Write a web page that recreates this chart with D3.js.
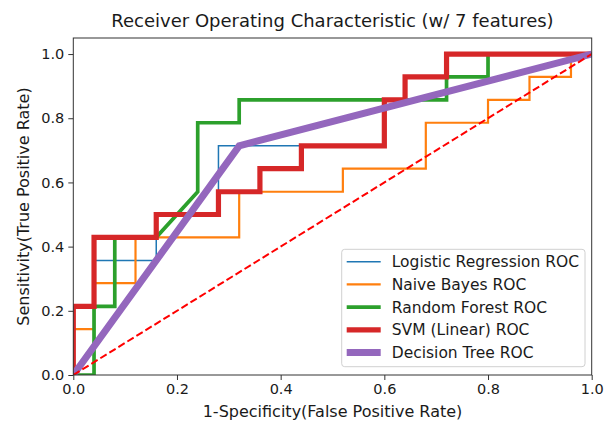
<!DOCTYPE html>
<html>
<head>
<meta charset="utf-8">
<script src="https://cdn.jsdelivr.net/npm/d3@7"></script>
<style>
  body { margin: 0; background: #fff; }
  text { font-family: "DejaVu Sans", sans-serif; fill: #1a1a1a; }
</style>
</head>
<body>
<div id="chart"></div>
<script>
/** ROC points (false positive rate / true positive rate) per model. **/
var lrFpr = [0, 0, 0.04, 0.04, 0.16, 0.16, 0.28, 0.28, 0.6, 0.6, 0.64, 0.64, 0.72, 0.72, 1];
var lrTpr = [0, 0.214, 0.214, 0.357, 0.357, 0.5, 0.5, 0.714, 0.714, 0.857, 0.857, 0.929, 0.929, 1, 1];

var nbFpr = [0, 0, 0.04, 0.04, 0.12, 0.12, 0.32, 0.32, 0.52, 0.52, 0.68, 0.68, 0.8, 0.8, 0.88, 0.88, 0.96, 0.96, 1];
var nbTpr = [0, 0.143, 0.143, 0.286, 0.286, 0.429, 0.429, 0.571, 0.571, 0.643, 0.643, 0.786, 0.786, 0.857, 0.857, 0.929, 0.929, 1, 1];

var rfFpr = [0, 0.04, 0.04, 0.08, 0.08, 0.16, 0.24, 0.24, 0.32, 0.32, 0.72, 0.72, 0.8, 0.8, 1];
var rfTpr = [0, 0, 0.214, 0.214, 0.429, 0.429, 0.571, 0.786, 0.786, 0.857, 0.857, 0.929, 0.929, 1, 1];

var svmFpr = [0, 0, 0.04, 0.04, 0.16, 0.16, 0.28, 0.28, 0.36, 0.36, 0.44, 0.44, 0.6, 0.6, 0.64, 0.64, 0.72, 0.72, 1];
var svmTpr = [0, 0.214, 0.214, 0.429, 0.429, 0.5, 0.5, 0.571, 0.571, 0.643, 0.643, 0.714, 0.714, 0.857, 0.857, 0.929, 0.929, 1, 1];

var dtFpr = [0, 0.32, 1];
var dtTpr = [0, 0.714, 1];

/** Chance line. **/
var chanceFpr = [0, 1];
var chanceTpr = [0, 1];

var seriesNames = ["Logistic Regression ROC", "Naive Bayes ROC", "Random Forest ROC", "SVM (Linear) ROC", "Decision Tree ROC"];
var xTicks = [0, 0.2, 0.4, 0.6, 0.8, 1.0];
var yTicks = [0, 0.2, 0.4, 0.6, 0.8, 1.0];

var series = [
    {name: seriesNames[0], fpr: lrFpr, tpr: lrTpr, color: "#1f77b4", width: 1.5},
    {name: seriesNames[1], fpr: nbFpr, tpr: nbTpr, color: "#ff7f0e", width: 2.2},
    {name: seriesNames[2], fpr: rfFpr, tpr: rfTpr, color: "#2ca02c", width: 3.7},
    {name: seriesNames[3], fpr: svmFpr, tpr: svmTpr, color: "#d62728", width: 5.2},
    {name: seriesNames[4], fpr: dtFpr, tpr: dtTpr, color: "#9467bd", width: 7}
];

var margin = {top: 38, right: 20.3, bottom: 51, left: 73.3},
    width = 612 - margin.left - margin.right,
    height = 426 - margin.top - margin.bottom;

var x = d3.scaleLinear().domain([0, 1]).range([0, width]);
var y = d3.scaleLinear().domain([0, 1.05]).range([height, 0]);

var svg = d3.select("#chart")
    .append("svg")
    .attr("width", 612)
    .attr("height", 426);

var g = svg.append("g")
    .attr("transform", "translate(" + margin.left + "," + margin.top + ")");

g.append("defs").append("clipPath").attr("id", "clip")
    .append("rect").attr("width", width).attr("height", height);

var line = d3.line()
    .x(function (d) { return x(d[0]); })
    .y(function (d) { return y(d[1]); });

function toPoints(fpr, tpr) {
    return fpr.map(function (v, i) { return [v, tpr[i]]; });
}

var lineContainer = g.append("g").attr("clip-path", "url(#clip)");

lineContainer.selectAll(".roc")
    .data(series)
    .enter().append("path")
    .attr("class", "roc")
    .attr("fill", "none")
    .attr("stroke", function (d) { return d.color; })
    .attr("stroke-width", function (d) { return d.width; })
    .attr("stroke-linejoin", "miter")
    .attr("stroke-linecap", "butt")
    .attr("d", function (d) { return line(toPoints(d.fpr, d.tpr)); });

lineContainer.append("path")
    .attr("fill", "none")
    .attr("stroke", "#ff0000")
    .attr("stroke-width", 2)
    .style("stroke-dasharray", "7.4, 3.2")
    .attr("d", line(toPoints(chanceFpr, chanceTpr)));

/** Axes **/
var xAxis = g.append("g")
    .attr("transform", "translate(0," + height + ")")
    .call(d3.axisBottom(x).tickValues(xTicks).tickFormat(d3.format(".1f")).tickSizeOuter(0).tickSize(5).tickPadding(4));

var yAxis = g.append("g")
    .call(d3.axisLeft(y).tickValues(yTicks).tickFormat(d3.format(".1f")).tickSizeOuter(0).tickSize(5).tickPadding(4));

[xAxis, yAxis].forEach(function (a) {
    a.select(".domain").remove();
    a.selectAll("line").attr("stroke", "#333");
    a.selectAll("text").style("font-size", "14.5px").style("fill", "#1a1a1a");
});

g.append("rect")
    .attr("width", width)
    .attr("height", height)
    .attr("fill", "none")
    .attr("stroke", "#333")
    .attr("stroke-width", 1);

/** Title and labels **/
svg.append("text")
    .attr("x", margin.left + width / 2)
    .attr("y", 27)
    .attr("text-anchor", "middle")
    .style("font-size", "18px")
    .text("Receiver Operating Characteristic (w/ 7 features)");

svg.append("text")
    .attr("x", margin.left + width / 2)
    .attr("y", 417)
    .attr("text-anchor", "middle")
    .style("font-size", "16px")
    .text("1-Specificity(False Positive Rate)");

svg.append("text")
    .attr("transform", "translate(29," + (margin.top + height / 2) + ") rotate(-90)")
    .attr("text-anchor", "middle")
    .style("font-size", "16px")
    .text("Sensitivity(True Positive Rate)");

/** Legend **/
var legend = svg.append("g").attr("transform", "translate(341.7,249.3)");

legend.append("rect")
    .attr("width", 243.3)
    .attr("height", 117.4)
    .attr("rx", 3)
    .attr("fill", "#fff")
    .attr("fill-opacity", 0.8)
    .attr("stroke", "#d0d0d0");

var item = legend.selectAll(".item")
    .data(series)
    .enter().append("g")
    .attr("class", "item")
    .attr("transform", function (d, i) { return "translate(0," + (12.4 + i * 22.7) + ")"; });

item.append("line")
    .attr("x1", 5).attr("x2", 39)
    .attr("stroke", function (d) { return d.color; })
    .attr("stroke-width", function (d) { return d.width; });

item.append("text")
    .attr("x", 50)
    .attr("dy", "0.35em")
    .style("font-size", "15.5px")
    .text(function (d) { return d.name; });
</script>
</body>
</html>
